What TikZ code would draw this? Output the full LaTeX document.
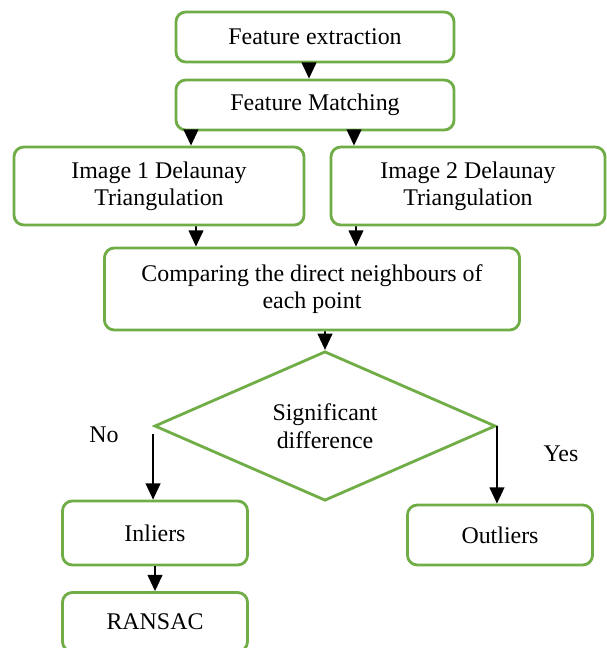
\documentclass[tikz,border=0pt]{standalone}
\usepackage{fontspec}
\setmainfont{Liberation Serif}
\usepackage{tikz}
\usetikzlibrary{shapes, shapes.geometric, arrows.meta, positioning}
\usepackage{xcolor}
\definecolor{boxgreen}{RGB}{112,173,71}

\begin{document}
\begin{tikzpicture}[
        x=0.025cm, y=-0.025cm,
        font=\fontsize{17}{19.5}\selectfont,
        box/.style={draw=boxgreen, line width=2pt, rectangle, rounded corners=7pt, fill=white, align=center, inner sep=2pt},
        decision/.style={draw=boxgreen, line width=2pt, diamond, align=center, inner sep=0pt, minimum width=8.525cm, minimum height=3.725cm},
        arr/.style={-{Triangle[width=10.5pt, length=11.5pt]}, line width=1.2pt, black}
    ]
        \useasboundingbox (0,0) rectangle (606,648);

        % Feature stages
        \node[box, minimum width=6.95cm, minimum height=1.25cm] (extract) at (315,37) {Feature extraction};
        \node[box, minimum width=6.95cm, minimum height=1.25cm] (match) at (315,105) {Feature Matching};

        % Triangulation of both images
        \node[box, minimum width=7.25cm, minimum height=1.95cm] (tri1) at (159,186) {Image 1 Delaunay \\ Triangulation};
        \node[box, minimum width=6.85cm, minimum height=1.95cm] (tri2) at (468,186) {Image 2 Delaunay \\ Triangulation};

        % Comparison and decision
        \node[box, minimum width=10.375cm, minimum height=2.05cm] (compare) at (312,289) {Comparing the direct neighbours of \\ each point};
        \node[decision] (diff) at (325,426) {Significant \\ difference};

        % Results
        \node[box, minimum width=4.625cm, minimum height=1.6cm] (inliers) at (155,533) {Inliers};
        \node[box, minimum width=4.625cm, minimum height=1.5cm] (outliers) at (500,535) {Outliers};
        \node[box, minimum width=4.625cm, minimum height=1.475cm] (ransac) at (155,622) {RANSAC};

        % Arrows
        \draw[arr] ([xshift=-0.15cm]extract.south) -- ([xshift=-0.15cm]match.north);
        \draw[arr] ([xshift=-3.1cm]match.south) -- ([xshift=0.8cm]tri1.north);
        \draw[arr] ([xshift=0.975cm]match.south) -- ([xshift=-2.85cm]tri2.north);
        \draw[arr] ([xshift=0.925cm]tri1.south) -- ([xshift=-2.9cm]compare.north);
        \draw[arr] ([xshift=-2.8cm]tri2.south) -- ([xshift=1.1cm]compare.north);
        \draw[arr] ([xshift=0.325cm]compare.south) -- (diff.north);
        \draw[arr] ([yshift=-0.2cm]diff.west) -- (diff.west |- inliers.north);
        \draw[arr] (diff.east) -- (diff.east |- outliers.north);
        \draw[arr] (inliers.south) -- (ransac.north);

        % Labels
        \node (no) at (104,435) {No};
        \node (yes) at (561,454) {Yes};

    \end{tikzpicture}
\end{document}
